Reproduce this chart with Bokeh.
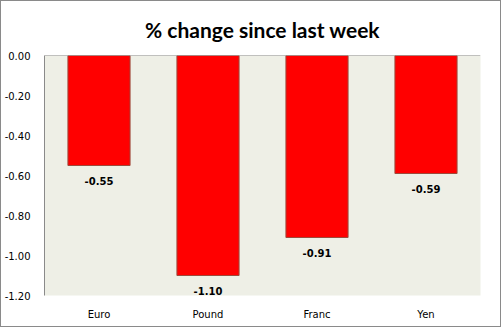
from bokeh.plotting import figure
from bokeh.models import ColumnDataSource, FixedTicker, NumeralTickFormatter, Span, Range1d
from bokeh.core.properties import value
from bokeh.embed import file_html
from bokeh.resources import INLINE

categories = ["Euro", "Pound", "Franc", "Yen"]
changes = [-0.55, -1.10, -0.91, -0.59]
y_ticks = [0.0, -0.2, -0.4, -0.6, -0.8, -1.0, -1.2]
title_text = "% change since last week"

labels = ["%.2f" % v for v in changes]
src = ColumnDataSource(dict(cat=categories, val=changes, lab=labels))

p = figure(x_range=categories, y_range=Range1d(-1.2, 0.0),
           width=501, height=327, output_backend="svg", toolbar_location=None,
           min_border_left=41, min_border_right=22, min_border_bottom=33, min_border_top=4)
p.styles = {"border": "1px solid #8a8a8a"}
p.title.text = title_text
p.title.align = "center"
p.title.text_font = "Lato"
p.title.text_font_size = "21px"
p.title.text_font_style = "bold"
p.title.text_color = "black"
p.title.standoff = 27

p.background_fill_color = "#EEEFE6"
p.border_fill_color = "white"
p.outline_line_color = None
p.xgrid.visible = False
p.ygrid.visible = False

p.vbar(x="cat", top=0, bottom="val", width=0.57, source=src,
       fill_color="#FF0000", line_color="#9C4A3C", line_width=1)
p.text(x="cat", y="val", text="lab", source=src, y_offset=15,
       text_align="center", text_baseline="middle",
       text_font=value("DejaVu Sans"), text_font_size="10px",
       text_font_style="bold", text_color="black")

p.add_layout(Span(location=0, dimension="width", line_color="#8a8a8a", line_width=1))

p.yaxis.ticker = FixedTicker(ticks=y_ticks)
p.yaxis.formatter = NumeralTickFormatter(format="0.00")
p.yaxis.major_label_text_font = "DejaVu Sans"
p.yaxis.major_label_text_font_size = "10px"
p.yaxis.major_label_text_color = "black"
p.yaxis.axis_line_color = "#8a8a8a"
p.yaxis.major_tick_line_color = None
p.yaxis.minor_tick_line_color = None
p.yaxis.major_label_standoff = 8

p.xaxis.axis_line_color = None
p.xaxis.major_tick_line_color = None
p.xaxis.minor_tick_line_color = None
p.xaxis.major_label_text_font = "DejaVu Sans"
p.xaxis.major_label_text_font_size = "10px"
p.xaxis.major_label_text_color = "black"
p.xaxis.major_label_standoff = 7

open("out.html", "w").write(file_html(p, INLINE))
